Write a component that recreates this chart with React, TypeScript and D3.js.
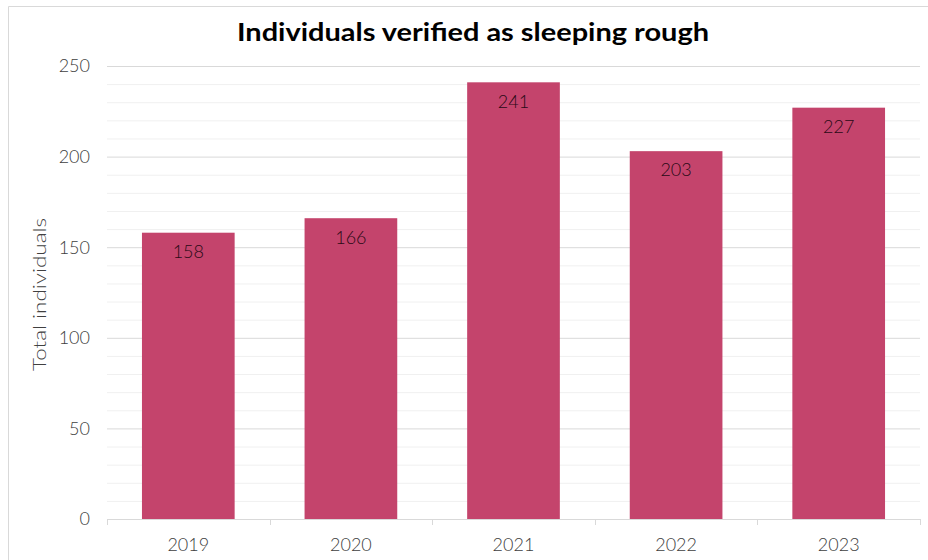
import React from "react";
import * as d3 from "d3";

const categories = ["2019", "2020", "2021", "2022", "2023"];
const values = [158, 166, 241, 203, 227];
const yTicks = [0, 50, 100, 150, 200, 250];
const title = "Individuals verified as sleeping rough";
const yTitle = "Total individuals";

export default function App() {
  const W = 928, H = 560;
  const m = { left: 107, right: 8, top: 66, bottom: 41 };
  const x = d3.scaleBand<string>().domain(categories).range([m.left, W - m.right]).paddingInner(0.43).paddingOuter(0.215);
  const xb = d3.scaleBand<string>().domain(categories).range([m.left, W - m.right]);
  const y = d3.scaleLinear().domain([0, 250]).range([H - m.bottom, m.top]);
  const minor = d3.range(0, 251, 10).filter((v) => v % 50 !== 0);
  const font = "Lato, 'Noto Sans', sans-serif";
  return (
    <svg width={W} height={H} style={{ position: "absolute", left: 0, top: 0 }} fontFamily={font}>
      <rect width={W} height={H} fill="#fff" />
      <path d={`M8.5,${H} V6.5 H${W}`} fill="none" stroke="#d9d9d9" />
      <text x={237} y={41} fontSize={24} fontWeight={700} fill="#000" textLength={472} lengthAdjust="spacingAndGlyphs">{title}</text>
      {minor.map((v) => (
        <line key={"m" + v} x1={m.left} x2={W - m.right} y1={y(v) + 0.5} y2={y(v) + 0.5} stroke="#f0f0f0" />
      ))}
      {yTicks.map((v) => (
        <g key={v}>
          {v > 0 && <line x1={m.left} x2={W - m.right} y1={y(v) + 0.5} y2={y(v) + 0.5} stroke="#d9d9d9" />}
          <text x={90} y={y(v)} dy="0.35em" textAnchor="end" fontSize={18} fontWeight={300} fill="#404040">{v}</text>
        </g>
      ))}
      {categories.map((c, i) => (
        <g key={c}>
          <rect x={x(c)} y={y(values[i])} width={x.bandwidth()} height={y(0) - y(values[i])} fill="#c4446c" />
          <text x={x(c)! + x.bandwidth() / 2} y={y(values[i]) + 19} dy="0.35em" textAnchor="middle" fontSize={18} fontWeight={300} fill="#2a0a16">{values[i]}</text>
          <text x={xb(c)! + xb.bandwidth() / 2} y={545} dy="0.35em" textAnchor="middle" fontSize={18} fontWeight={300} fill="#404040">{c}</text>
        </g>
      ))}
      <line x1={m.left} x2={W - m.right} y1={y(0) + 0.5} y2={y(0) + 0.5} stroke="#d9d9d9" />
      {[...categories.map((c) => xb(c)!), W - m.right].map((px, i) => (
        <line key={"t" + i} x1={Math.round(px) + 0.5} x2={Math.round(px) + 0.5} y1={y(0)} y2={y(0) + 6} stroke="#d9d9d9" />
      ))}
      <text transform={`translate(46,371) rotate(-90)`} fontSize={18} fontWeight={300} fill="#404040" textLength={153} lengthAdjust="spacingAndGlyphs">{yTitle}</text>
    </svg>
  );
}
